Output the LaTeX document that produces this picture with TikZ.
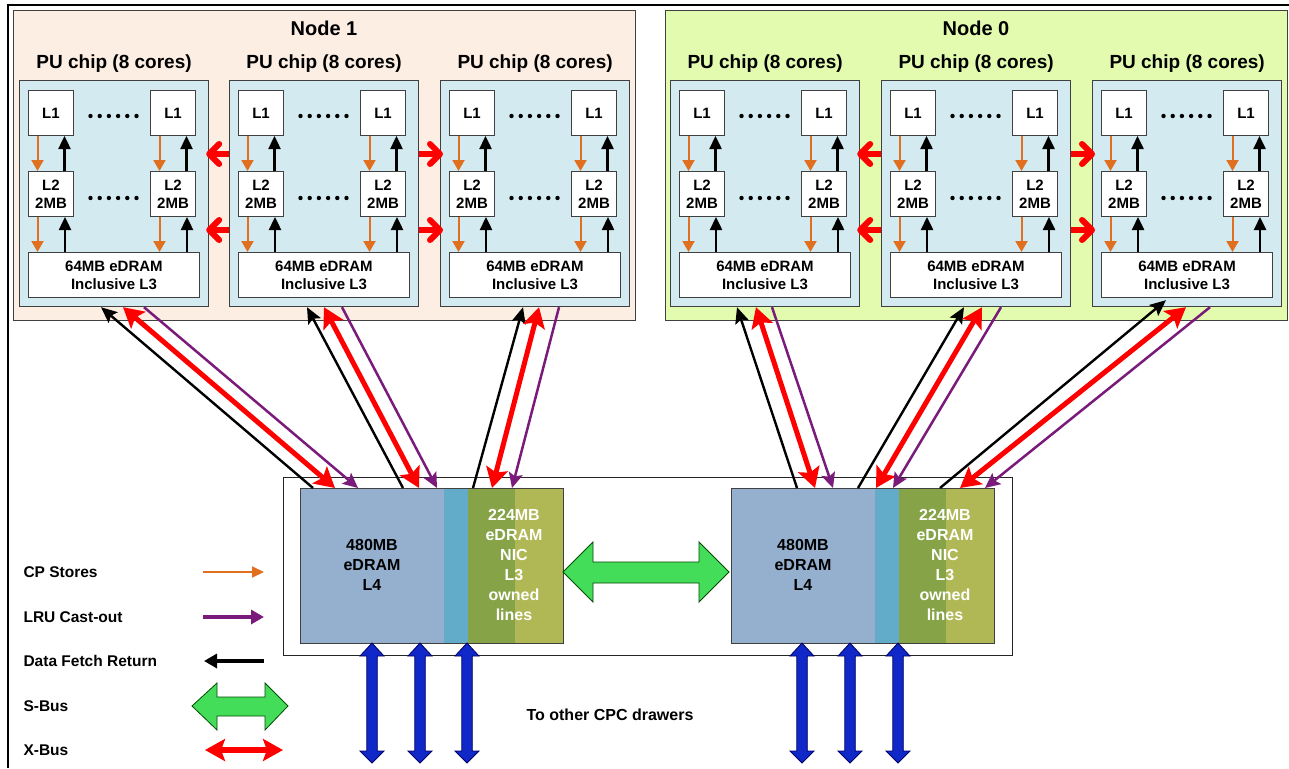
\documentclass[tikz,border=0pt]{standalone}
\usepackage{fontspec}
\setmainfont{Liberation Sans}
\usetikzlibrary{arrows.meta}
\definecolor{nodeonefill}{HTML}{FCEEE3}
\definecolor{nodezerofill}{HTML}{E2FBAF}
\definecolor{chipfill}{HTML}{D3EAF0}
\definecolor{lfourblue}{HTML}{95AFCF}
\definecolor{lfourteal}{HTML}{63ACC9}
\definecolor{lfourgreen}{HTML}{86A447}
\definecolor{lfourolive}{HTML}{B0B856}
\definecolor{storeorange}{HTML}{E07020}
\definecolor{castpurple}{HTML}{7A1A7A}
\definecolor{sbusgreen}{HTML}{44DD5A}
\definecolor{busblue}{HTML}{1028C8}
\definecolor{xred}{HTML}{FF0000}
\definecolor{edgegray}{HTML}{404040}
\newcommand{\vbusarrow}[1]{\filldraw[vbus] (#1,643) -- (#1+12,656) -- (#1+5.25,656) -- (#1+5.25,751) -- (#1+12,751) -- (#1,763) -- (#1-12,751) -- (#1-5.25,751) -- (#1-5.25,656) -- (#1-12,656) -- cycle;}
\begin{document}
\begin{tikzpicture}[x=1pt,y=-1pt,
  bigbox/.style={draw=edgegray, line width=1.2pt, anchor=north west, inner sep=0pt, minimum width=622pt, minimum height=310pt},
  chipbox/.style={draw=edgegray, line width=1.2pt, fill=chipfill, anchor=north west, minimum width=189pt, minimum height=226pt, inner sep=0pt},
  cachebox/.style={draw=edgegray, line width=1pt, fill=white, anchor=north west, minimum width=45pt, minimum height=45pt, inner sep=0pt, font=\fontsize{15}{18}\selectfont\bfseries, align=center},
  lthreebox/.style={cachebox, minimum width=171pt},
  titletext/.style={font=\fontsize{20}{24}\selectfont\bfseries},
  chiptext/.style={font=\fontsize{19}{22}\selectfont\bfseries},
  legendtext/.style={font=\fontsize{15.5}{18}\selectfont\bfseries, anchor=west},
  lfourtext/.style={font=\fontsize{16}{20}\selectfont\bfseries, align=center},
  storesmall/.style={draw=storeorange, line width=2pt, -{Triangle[length=11pt,width=12pt]}},
  fetchsmall/.style={draw=black, line width=2.4pt, -{Triangle[length=13pt,width=12pt]}},
  xshort/.style={draw=xred, line width=6pt, -{Straight Barb[length=10pt,width=20pt,round]}},
  fetch/.style={draw=black, line width=2.4pt, -{Stealth[length=16pt,width=14pt,inset=3pt]}},
  cast/.style={draw=castpurple, line width=2.5pt, -{Stealth[length=15pt,width=14pt,inset=3pt]}},
  xlong/.style={draw=xred, line width=5pt, {Stealth[length=20pt,width=22pt,inset=4pt]}-{Stealth[length=20pt,width=22pt,inset=4pt]}},
  vbus/.style={fill=busblue, draw=black!60!blue, line width=0.8pt},
  sbus/.style={fill=sbusgreen, draw=black!70!green, line width=0.8pt}
]
\useasboundingbox (0,0) rectangle (1289,768);
% outer frame
\draw[line width=1.2pt] (8,768) -- (8,5) -- (1289,5);
% node boxes
\node[bigbox, fill=nodeonefill] (nodeone) at (13,10) {};
\node[bigbox, fill=nodezerofill] (nodezero) at (665,10) {};
\node[titletext] (titleone) at (324,28) {Node 1};
\node[titletext] (titlezero) at (976,28) {Node 0};
% chips
\foreach \X/\n in {19/a,229/b,440/c,670/d,881/e,1092/f}{
  \node[chipbox] (chip\n) at (\X,80) {};
  \node[chiptext] (lab\n) at ([yshift=16pt]chip\n.north) {PU chip (8 cores)};
  \node[cachebox] (Lol\n) at (\X+9,90) {L1};
  \node[cachebox] (Lor\n) at (\X+131,90) {L1};
  \node[cachebox] (Ltl\n) at (\X+9,171) {L2\\2MB};
  \node[cachebox] (Ltr\n) at (\X+131,171) {L2\\2MB};
  \node[lthreebox] (Lth\n) at (\X+9,252) {64MB eDRAM\\Inclusive L3};
  \foreach \d in {0,...,5}{
    \fill (\X+71.5+\d*9.2,116) circle (2.2pt);
    \fill (\X+71.5+\d*9.2,198) circle (2.2pt);
  }
  \foreach \c in {l,r}{
    \draw[storesmall] ([xshift=-13.5pt]Lo\c\n.south) -- ([xshift=-13.5pt]Lt\c\n.north);
    \draw[fetchsmall] ([xshift=13.5pt]Lt\c\n.north) -- ([xshift=13.5pt]Lo\c\n.south);
    \draw[storesmall] ([xshift=-13.5pt]Lt\c\n.south) -- ([xshift=-13.5pt]Lt\c\n.south |- Lth\n.north);
    \draw[fetchsmall] ([xshift=14pt]Lt\c\n.south |- Lth\n.north) -- ([xshift=14pt]Lt\c\n.south);
  }
}
% X-bus between chips
\foreach \ys in {-74,-150}{
  \draw[xshort] ([yshift=\ys pt]chipb.north west) -- ([yshift=\ys pt,xshift=-3pt]chipa.north east);
  \draw[xshort] ([yshift=\ys pt]chipb.north east) -- ([yshift=\ys pt,xshift=3pt]chipc.north west);
  \draw[xshort] ([yshift=\ys pt]chipe.north west) -- ([yshift=\ys pt,xshift=-3pt]chipd.north east);
  \draw[xshort] ([yshift=\ys pt]chipe.north east) -- ([yshift=\ys pt,xshift=3pt]chipf.north west);
}
% drawer frame and L4 chips
\node[draw=black!85, line width=1pt, fill=white, anchor=north west, minimum width=729pt, minimum height=178pt, inner sep=0pt] (drawer) at (283,477) {};
\fill[lfourblue] (300,488) rectangle (444,643);
\fill[lfourteal] (444,488) rectangle (468,643);
\fill[lfourgreen] (468,488) rectangle (515,643);
\fill[lfourolive] (515,488) rectangle (563,643);
\node[draw=edgegray, line width=1pt, anchor=north west, minimum width=263pt, minimum height=155pt, inner sep=0pt] (L4L) at (300,488) {};
\fill[lfourblue] (731,488) rectangle (875,643);
\fill[lfourteal] (875,488) rectangle (899,643);
\fill[lfourgreen] (899,488) rectangle (946,643);
\fill[lfourolive] (946,488) rectangle (994,643);
\node[draw=edgegray, line width=1pt, anchor=north west, minimum width=263pt, minimum height=155pt, inner sep=0pt] (L4R) at (731,488) {};
\node[lfourtext] (tfourL) at (372,565) {480MB\\eDRAM\\L4};
\node[lfourtext] (tfourR) at (803,565) {480MB\\eDRAM\\L4};
\node[lfourtext, text=white] (nicL) at (514,565) {224MB\\eDRAM\\NIC\\L3\\owned\\lines};
\node[lfourtext, text=white] (nicR) at (945,565) {224MB\\eDRAM\\NIC\\L3\\owned\\lines};
% S-bus between chips
\filldraw[sbus] (563,572) -- (593,542) -- (593,562) -- (699,562) -- (699,542) -- (729,572) -- (699,602) -- (699,583) -- (593,583) -- (593,602) -- cycle;
% blue buses
\foreach \bx in {372,420,467,802,850,898}{\vbusarrow{\bx}}
\node[font=\fontsize{16}{19}\selectfont\bfseries] (other) at (610,715) {To other CPC drawers};
% long connectors
\foreach \c/\L/\b/\ys/\r/\p/\bb/\rr/\pp in {a/L4L/82/0/104/125/13/35/58, b/L4L/78/0/95/113/103/119/137, c/L4L/83/0/99/119/173/192/212, d/L4R/67/0/86/102/66/84/102, e/L4R/83/0/101/120/127/145/162, f/L4R/74/7/94/118/209/229/254}{
  \draw[fetch] ([xshift=\bb pt]\L.north west) -- ([xshift=\b pt,yshift=\ys pt]chip\c.south west);
  \draw[xlong] ([xshift=\r pt]chip\c.south west) -- ([xshift=\rr pt]\L.north west);
  \draw[cast] ([xshift=\p pt]chip\c.south west) -- ([xshift=\pp pt]\L.north west);
}
% legend
\node[legendtext] (lgcp) at (20,572) {CP Stores};
\node[legendtext] (lglru) at (20,617) {LRU Cast-out};
\node[legendtext] (lgdf) at (20,661) {Data Fetch Return};
\node[legendtext] (lgs) at (20,706) {S-Bus};
\node[legendtext] (lgx) at (20,750) {X-Bus};
\coordinate (cpa) at (203,572); \coordinate (cpb) at (264,572);
\coordinate (lra) at (203,617); \coordinate (lrb) at (264,617);
\coordinate (dfa) at (264,661); \coordinate (dfb) at (204,661);
\coordinate (xba) at (205,750); \coordinate (xbb) at (283,750);
\draw[draw=storeorange, line width=2pt, -{Triangle[length=12pt,width=11pt]}] (cpa) -- (cpb);
\draw[draw=castpurple, line width=3.5pt, -{Triangle[length=13pt,width=14pt]}] (lra) -- (lrb);
\draw[draw=black, line width=3.5pt, -{Triangle[length=13pt,width=14pt]}] (dfa) -- (dfb);
\filldraw[sbus] (192,706) -- (217,683) -- (217,697) -- (265,697) -- (265,683) -- (288,706) -- (265,730) -- (265,716) -- (217,716) -- (217,730) -- cycle;
\draw[draw=xred, line width=6pt, {Stealth[length=20pt,width=22pt,inset=4pt]}-{Stealth[length=20pt,width=22pt,inset=4pt]}] (xba) -- (xbb);
\end{tikzpicture}
\end{document}
